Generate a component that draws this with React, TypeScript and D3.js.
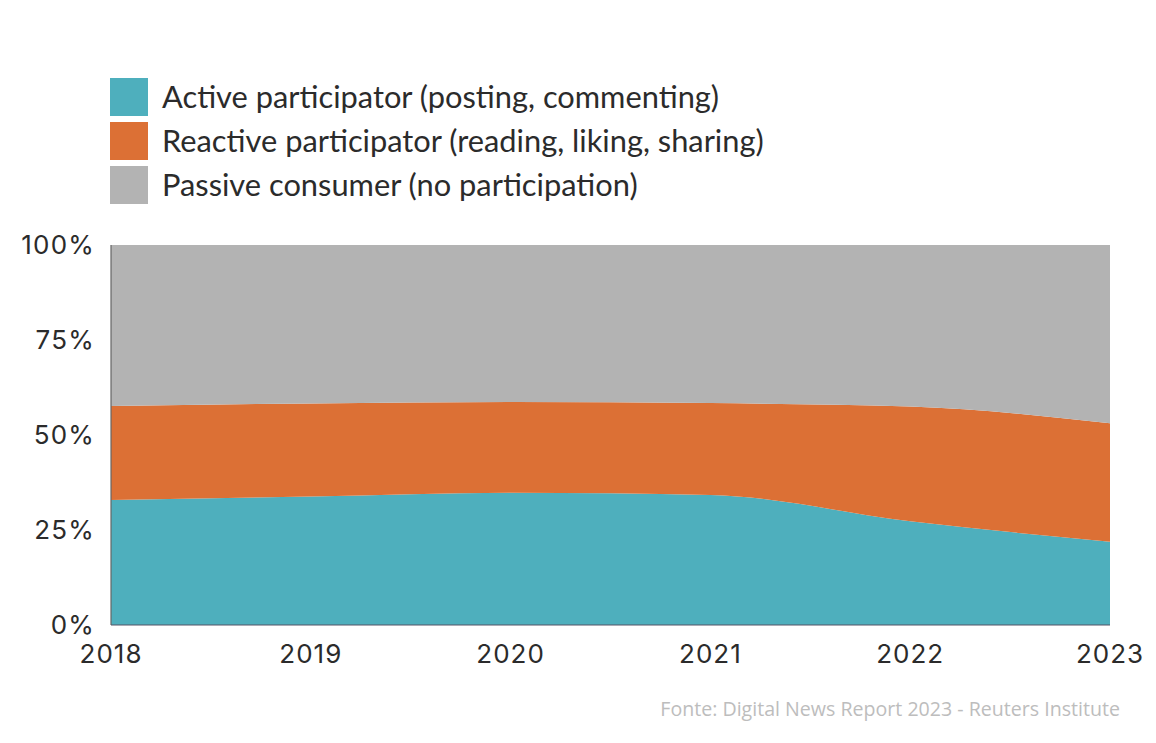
import { useEffect, useRef } from "react";
import * as d3 from "d3";

const years = ["2018", "2019", "2020", "2021", "2022", "2023"];
const active = [32.9, 33.8, 34.8, 34.2, 27.3, 21.9];
const reactive = [24.7, 24.5, 23.9, 24.2, 30.2, 31.2];
const passive = [42.4, 41.7, 41.3, 41.6, 42.5, 46.9];
const yTicks = [0, 25, 50, 75, 100];

const seriesNames = [
  "Active participator (posting, commenting)",
  "Reactive participator (reading, liking, sharing)",
  "Passive consumer (no participation)",
];
const seriesColors = ["#4eafbd", "#dc7035", "#b3b3b3"];
const source = "Fonte: Digital News Report 2023 - Reuters Institute";

const W = 1156;
const H = 743;

export default function App() {
  const svgRef = useRef<SVGSVGElement>(null);

  useEffect(() => {
    if (!svgRef.current) return;
    const svg = d3.select(svgRef.current);
    svg.selectAll("*").remove();

    const margin = { top: 245, right: 46, bottom: 118, left: 111 };
    const innerW = W - margin.left - margin.right;
    const innerH = H - margin.top - margin.bottom;

    const rows = years.map((y, i) => ({
      year: y,
      active: active[i],
      reactive: reactive[i],
      passive: passive[i],
    }));
    const keys = ["active", "reactive", "passive"];
    const stack = d3.stack<any>().keys(keys).offset(d3.stackOffsetExpand);
    const stacked = stack(rows);

    const x = d3.scalePoint<string>().domain(years).range([0, innerW]);
    const y = d3.scaleLinear().domain([0, 1]).range([innerH, 0]);

    const g = svg.append("g").attr("transform", `translate(${margin.left},${margin.top})`);

    const area = d3
      .area<any>()
      .x((d) => x(d.data.year)!)
      .y0((d) => y(d[0]))
      .y1((d) => y(d[1]))
      .curve(d3.curveMonotoneX);

    g.selectAll("path.layer")
      .data(stacked)
      .join("path")
      .attr("class", "layer")
      .attr("fill", (_, i) => seriesColors[i])
      .attr("d", area as any);

    // axis lines
    g.append("line")
      .attr("x1", 0)
      .attr("x2", 0)
      .attr("y1", 0)
      .attr("y2", innerH)
      .attr("stroke", "#666")
      .attr("stroke-width", 1.2);
    g.append("line")
      .attr("x1", 0)
      .attr("x2", innerW)
      .attr("y1", innerH)
      .attr("y2", innerH)
      .attr("stroke", "#556")
      .attr("stroke-width", 1.2);

    const tickFont = "Inter, 'DejaVu Sans', sans-serif";

    g.selectAll("text.ytick")
      .data(yTicks)
      .join("text")
      .attr("class", "ytick")
      .attr("x", -16)
      .attr("y", (d) => y(d / 100))
      .attr("dy", "0.36em")
      .attr("text-anchor", "end")
      .style("font-family", tickFont)
      .style("font-size", "26px")
      .style("letter-spacing", "1.2px")
      .style("fill", "#2b2b2b")
      .text((d) => `${d}%`);

    g.selectAll("text.xtick")
      .data(years)
      .join("text")
      .attr("class", "xtick")
      .attr("x", (d) => x(d)!)
      .attr("y", innerH + 38)
      .attr("text-anchor", "middle")
      .style("font-family", tickFont)
      .style("font-size", "26px")
      .style("letter-spacing", "1px")
      .style("fill", "#2b2b2b")
      .text((d) => d);

    // legend
    const legend = svg.append("g").attr("transform", "translate(110,78)");
    seriesNames.forEach((name, i) => {
      legend
        .append("rect")
        .attr("x", 0)
        .attr("y", i * 44)
        .attr("width", 38)
        .attr("height", 38)
        .attr("fill", seriesColors[i]);
      legend
        .append("text")
        .attr("x", 52)
        .attr("y", i * 44 + 30)
        .style("font-family", "Lato, 'Open Sans', sans-serif")
        .style("font-size", "30.8px")
        .style("fill", "#2b2b2b")
        .text(name);
    });

    svg
      .append("text")
      .attr("x", 1120)
      .attr("y", 716)
      .attr("text-anchor", "end")
      .style("font-family", "'Open Sans', sans-serif")
      .style("font-size", "19.6px")
      .style("fill", "#bdbdbd")
      .text(source);
  }, []);

  return (
    <svg
      ref={svgRef}
      width={W}
      height={H}
      style={{ position: "fixed", top: 0, left: 0, background: "#fff" }}
    />
  );
}
